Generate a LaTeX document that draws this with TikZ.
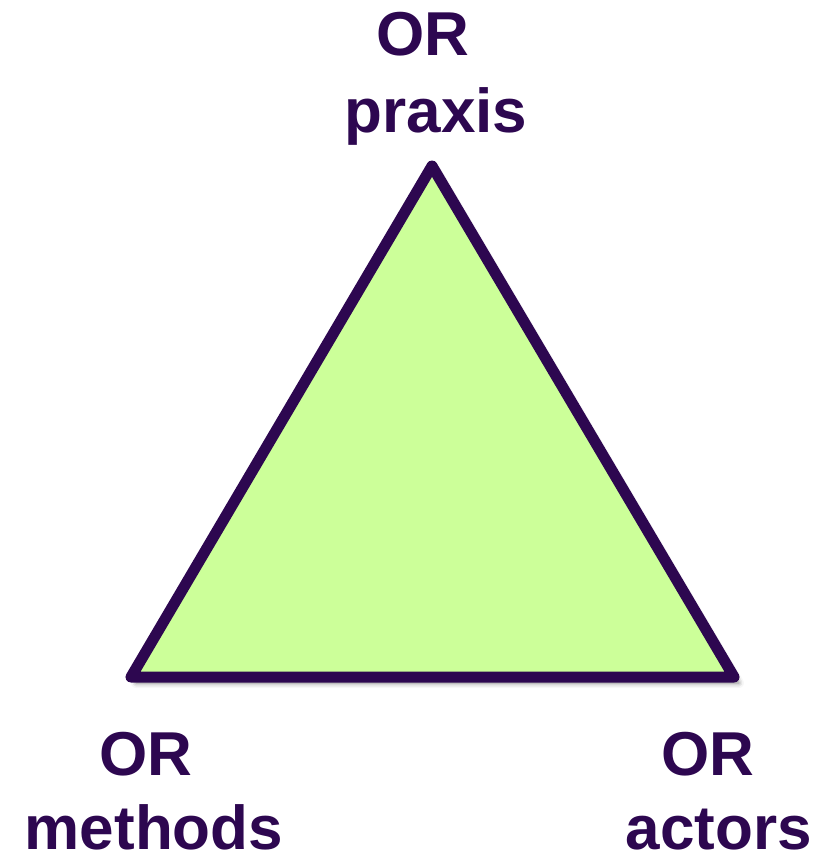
\documentclass[tikz,border=0pt]{standalone}
\usepackage{fontspec}
\setmainfont{Liberation Sans}
\usetikzlibrary{shadows.blur}
\definecolor{ink}{HTML}{2D0750}
\definecolor{leaf}{HTML}{CCFF99}
\begin{document}
\begin{tikzpicture}[x=1pt,y=-1pt,
  lbl/.style={text=ink,font=\fontsize{62}{76}\selectfont\bfseries,inner sep=0pt,anchor=base},
  tri/.style={draw=ink,fill=leaf,line width=11pt,line join=round,
    blur shadow={shadow xshift=5pt,shadow yshift=-6pt,shadow blur radius=5pt,shadow opacity=50}}]
\useasboundingbox (0,0) rectangle (817,854);
\coordinate (top) at (432,166);
\coordinate (bl) at (131,677);
\coordinate (br) at (734,677);
\path[tri] (top) -- (br) -- (bl) -- cycle;
\node[lbl] (tor) at (423,55) {OR};
\node[lbl] (tpx) at (436,132) {praxis};
\node[lbl] (lor) at (146,775) {OR};
\node[lbl,text depth=0pt] (lmt) at (154,849) {methods};
\node[lbl] (ror) at (708,775) {OR};
\node[lbl,text depth=0pt] (rac) at (719,849) {actors};
\end{tikzpicture}
\end{document}
